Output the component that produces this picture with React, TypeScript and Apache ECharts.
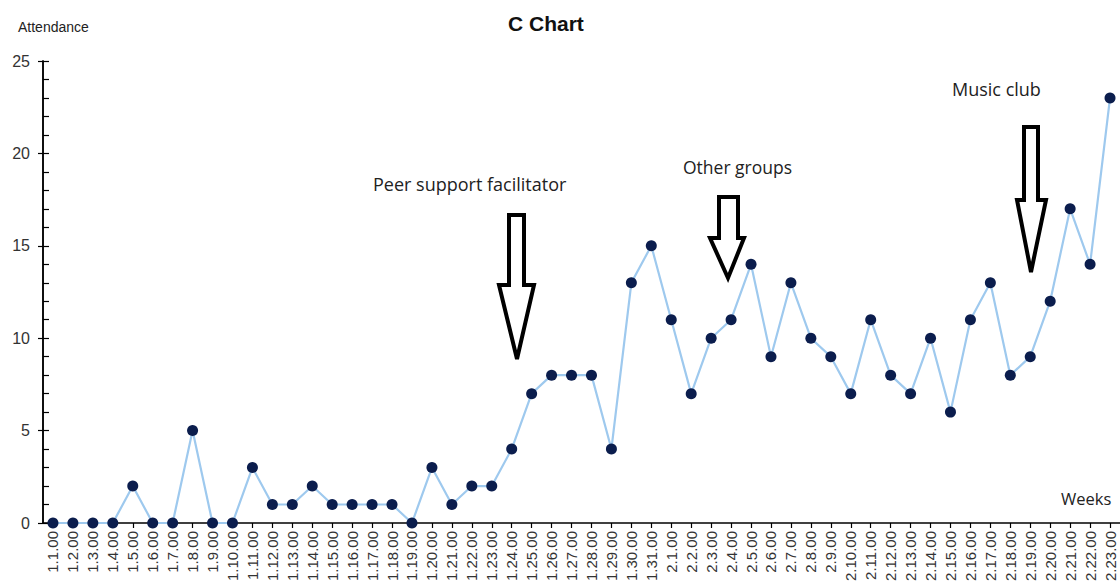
import React, { useEffect, useRef } from "react";
import * as echarts from "echarts";

const weeks: string[] = [
  "1.1.00", "1.2.00", "1.3.00", "1.4.00", "1.5.00", "1.6.00", "1.7.00", "1.8.00", "1.9.00", "1.10.00",
  "1.11.00", "1.12.00", "1.13.00", "1.14.00", "1.15.00", "1.16.00", "1.17.00", "1.18.00", "1.19.00", "1.20.00",
  "1.21.00", "1.22.00", "1.23.00", "1.24.00", "1.25.00", "1.26.00", "1.27.00", "1.28.00", "1.29.00", "1.30.00",
  "1.31.00", "2.1.00", "2.2.00", "2.3.00", "2.4.00", "2.5.00", "2.6.00", "2.7.00", "2.8.00", "2.9.00",
  "2.10.00", "2.11.00", "2.12.00", "2.13.00", "2.14.00", "2.15.00", "2.16.00", "2.17.00", "2.18.00", "2.19.00",
  "2.20.00", "2.21.00", "2.22.00", "2.23.00",
];

const attendance: number[] = [
  0, 0, 0, 0, 2, 0, 0, 5, 0, 0,
  3, 1, 1, 2, 1, 1, 1, 1, 0, 3,
  1, 2, 2, 4, 7, 8, 8, 8, 4, 13,
  15, 11, 7, 10, 11, 14, 9, 13, 10, 9,
  7, 11, 8, 7, 10, 6, 11, 13, 8, 9,
  12, 17, 14, 23,
];

const chartTitle = "C Chart";
const yAxisTitle = "Attendance";
const xAxisTitle = "Weeks";
const annotations: string[] = ["Peer support facilitator", "Other groups", "Music club"];

const FONT = "'Liberation Sans', Arial, sans-serif";
const NOTE_FONT = "'Open Sans', 'Noto Sans', sans-serif";

export default function App() {
  const ref = useRef<HTMLDivElement>(null);

  useEffect(() => {
    if (!ref.current) return;
    const chart = echarts.init(ref.current, null, { renderer: "svg" });

    const arrowStyle = { fill: "#ffffff", stroke: "#000000", lineWidth: 4, lineJoin: "miter" as const };
    const arrows: number[][][] = [
      [[509, 215], [524, 215], [524, 285], [534, 285], [517, 359], [499, 285], [509, 285]],
      [[719, 197], [738, 197], [738, 238], [744, 238], [728, 278], [710, 238], [719, 238]],
      [[1024, 127], [1038, 127], [1038, 200], [1046, 200], [1031, 272], [1017, 200], [1024, 200]],
    ];
    const notePos = [
      [373, 187],
      [683, 170],
      [952, 92],
    ];
    const noteSize = [18, 17.5, 18];

    const yCommon = {
      type: "value" as const,
      min: 0,
      max: 25,
      interval: 5,
      position: "left" as const,
      offset: 0,
      splitLine: { show: false },
      axisLine: { show: true, lineStyle: { color: "#000", width: 1.5 } },
    };

    chart.setOption({
      animation: false,
      backgroundColor: "#ffffff",
      title: {
        text: chartTitle,
        left: 503,
        top: 8,
        textStyle: { fontFamily: FONT, fontSize: 21, fontWeight: "bold", color: "#111" },
      },
      grid: { left: 43, right: 0, top: 61, bottom: 64, containLabel: false },
      xAxis: {
        type: "category",
        data: weeks,
        boundaryGap: true,
        axisLine: { show: true, lineStyle: { color: "#000", width: 1.5 } },
        axisTick: { show: true, alignWithLabel: true, length: 5, lineStyle: { color: "#000", width: 1.2 } },
        axisLabel: {
          interval: 0,
          rotate: 90,
          margin: 8,
          fontFamily: FONT,
          fontSize: 15,
          color: "#333",
        },
        splitLine: { show: false },
      },
      yAxis: [
        {
          ...yCommon,
          axisTick: { show: true, inside: false, length: 5, lineStyle: { color: "#000", width: 1.2 } },
          axisLabel: { show: true, margin: 13, fontFamily: FONT, fontSize: 16, color: "#333" },
        },
        {
          ...yCommon,
          axisTick: { show: true, inside: true, length: 6, lineStyle: { color: "#000", width: 1.2 } },
          minorTick: { show: true, splitNumber: 5, length: 6, lineStyle: { color: "#000", width: 1.2 } },
          axisLabel: { show: false },
        },
      ],
      series: [
        {
          type: "line",
          data: attendance,
          yAxisIndex: 0,
          symbol: "circle",
          symbolSize: 11,
          lineStyle: { color: "#9ec9ee", width: 2.2 },
          itemStyle: { color: "#0b1d4d" },
          z: 3,
        },
      ],
      graphic: [
        {
          type: "text",
          left: 18,
          top: 20,
          style: { text: yAxisTitle, font: `14px ${FONT}`, fill: "#222" },
        },
        {
          type: "text",
          left: 1061,
          top: 490,
          style: { text: xAxisTitle, font: `16.5px ${NOTE_FONT}`, fill: "#222" },
        },
        ...annotations.map((t, i) => ({
          type: "text",
          left: notePos[i][0],
          top: notePos[i][1] - 12,
          style: { text: t, font: `${noteSize[i]}px ${NOTE_FONT}`, fill: "#222" },
        })),
        ...arrows.map((pts) => ({
          type: "polygon",
          shape: { points: pts },
          style: arrowStyle,
          z: 10,
        })),
      ],
    });

    return () => chart.dispose();
  }, []);

  return (
    <div
      ref={ref}
      style={{ position: "fixed", left: 0, top: 0, width: 1120, height: 587 }}
    />
  );
}
